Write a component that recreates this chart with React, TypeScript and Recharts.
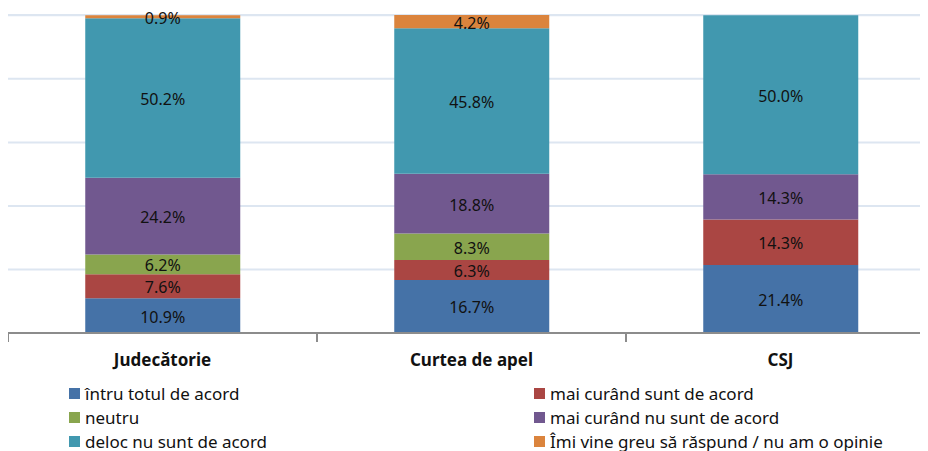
import React from 'react';
import { BarChart, Bar, XAxis, YAxis, CartesianGrid, LabelList } from 'recharts';

const categories = ['Judecătorie', 'Curtea de apel', 'CSJ'];

const seriesNames = [
    'întru totul de acord',
    'mai curând sunt de acord',
    'neutru',
    'mai curând nu sunt de acord',
    'deloc nu sunt de acord',
    'Îmi vine greu să răspund / nu am o opinie',
];

const totalAcord = [10.9, 16.7, 21.4];
const maiCurandAcord = [7.6, 6.3, 14.3];
const neutru = [6.2, 8.3, 0];
const maiCurandNuAcord = [24.2, 18.8, 14.3];
const delocNuAcord = [50.2, 45.8, 50.0];
const nuAmOpinie = [0.9, 4.2, 0];

const seriesValues = [totalAcord, maiCurandAcord, neutru, maiCurandNuAcord, delocNuAcord, nuAmOpinie];

const COLORS = ['#4572A7', '#AA4643', '#89A54E', '#71588F', '#4198AF', '#DB843D'];

const FONT = '"Noto Sans", sans-serif';

const data = categories.map((name, i) => {
    const row: Record<string, string | number> = { name };
    seriesNames.forEach((s, k) => {
        row[`s${k}`] = seriesValues[k][i];
    });
    return row;
});

const CategoryTick = (props: any) => {
    const { x, y, payload } = props;
    const half = payload && payload.offset ? payload.offset : 154.5;
    return (
        <g>
            <line x1={x - half} y1={y - 8} x2={x - half} y2={y + 1} stroke="#8c8c8c" strokeWidth={2} />
            <text x={x} y={y + 25} textAnchor="middle" fontFamily={FONT} fontWeight="bold" fontSize={17} fill="#111">
                {payload.value}
            </text>
        </g>
    );
};

const SegmentLabel = (props: any) => {
    const { x, y, width, height, value } = props;
    if (!value) return null;
    return (
        <text
            x={x + width / 2}
            y={y + height / 2 + 1}
            textAnchor="middle"
            dominantBaseline="central"
            fontFamily={FONT}
            fontSize={16}
            fill="#111"
        >
            {`${Number(value).toFixed(1)}%`}
        </text>
    );
};

const legendOrder = [0, 1, 2, 3, 4, 5];

const App: React.FC = () => {
    return (
        <div style={{ position: 'relative', top: -8, width: 920, height: 451, overflow: 'hidden' }}>
            <BarChart
                width={927}
                height={381}
                data={data}
                margin={{ top: 15, right: 0, bottom: 0, left: 0 }}
                barCategoryGap="25%"
            >
                <CartesianGrid vertical={false} stroke="#dde6f1" strokeWidth={2} />
                <YAxis hide domain={[0, 100]} ticks={[0, 20, 40, 60, 80, 100]} />
                <XAxis
                    dataKey="name"
                    height={48}
                    axisLine={{ stroke: '#8c8c8c', strokeWidth: 2 }}
                    tickLine={false}
                    tick={<CategoryTick />}
                    interval={0}
                />
                {seriesNames.map((s, k) => (
                    <Bar key={s} dataKey={`s${k}`} name={s} stackId="a" fill={COLORS[k]} isAnimationActive={false}>
                        <LabelList dataKey={`s${k}`} content={<SegmentLabel />} />
                    </Bar>
                ))}
            </BarChart>
            <div
                style={{
                    position: 'absolute',
                    left: 61,
                    top: 381,
                    width: 860,
                    display: 'grid',
                    gridTemplateColumns: '465px 400px',
                    rowGap: 0,
                    fontFamily: FONT,
                    fontSize: 17,
                    color: '#111',
                }}
            >
                {legendOrder.map((k) => (
                    <div key={k} style={{ display: 'flex', alignItems: 'center', height: 24 }}>
                        <span style={{ width: 11, height: 11, background: COLORS[k], marginRight: 5, display: 'inline-block' }} />
                        <span>{seriesNames[k]}</span>
                    </div>
                ))}
            </div>
        </div>
    );
};

export default App;
